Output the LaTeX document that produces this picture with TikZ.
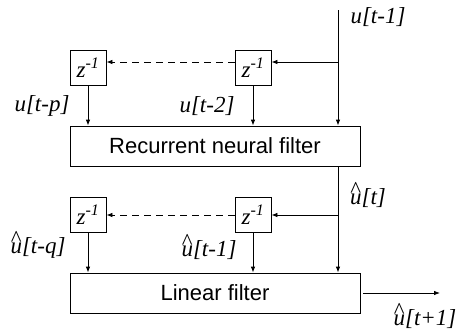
\documentclass[tikz,border=0pt]{standalone}
\usepackage{fontspec}
\setmainfont{Liberation Serif}
\newfontfamily\boxfont{Liberation Sans}
\usetikzlibrary{positioning}
\usetikzlibrary{arrows.meta}
\tikzstyle{delay} = [rectangle, draw=black, minimum width=36pt, minimum height=35pt, inner sep=0pt, font=\fontsize{23}{26}\selectfont]
\tikzstyle{filter} = [rectangle, draw=black, minimum width=290pt, minimum height=40pt, text centered, font=\boxfont\fontsize{22}{26}\selectfont]
\tikzstyle{signal} = [inner sep=0pt, font=\itshape\fontsize{23}{26}\selectfont]
\tikzstyle{arrow} = [-{Latex[length=6pt,width=4.5pt]}]
\newcommand{\zinv}{\textit{z}\textsuperscript{\textit{-1}}}
\newcommand{\uhat}{\leavevmode\setbox0\hbox{u}\rlap{\hbox to\wd0{\hss\raisebox{0.3em}{\upshape\textasciicircum}\hss}}\copy0}

\begin{document}
\begin{tikzpicture}[x=1pt, y=-1pt, line width=0.8pt]
        \useasboundingbox (0,0) rectangle (459,333);
        \node (rnf) [filter] at (215,146) {Recurrent neural filter};
        \node (lin) [filter] at (215,293) {Linear filter};
        \node (zp) [delay] at (88,67.5) {\zinv};
        \node (z2) [delay] at (253,67.5) {\zinv};
        \node (zq) [delay] at (88,214.5) {\zinv};
        \node (z1) [delay] at (253,214.5) {\zinv};

        \coordinate (in) at (338,10);
        \coordinate (tapA) at (338,62);
        \coordinate (tapB) at (338,215);
        \coordinate (out) at (440,293);

        \node (uin) [signal] at (378,17) {u[t-1]};
        \node (up) [signal] at (42,106) {u[t-p]};
        \node (u2) [signal] at (207,106) {u[t-2]};
        \node (ut) [signal] at (368,195) {\uhat[t]};
        \node (uq) [signal] at (38,245) {\uhat[t-q]};
        \node (u1) [signal] at (209,247) {\uhat[t-1]};
        \node (unext) [signal] at (425,316) {\uhat[t+1]};

        \draw [arrow] (in) -- (rnf.north -| in);
        \draw [arrow] (tapA) -- (tapA -| z2.east);
        \draw [arrow, dash pattern=on 7pt off 5pt] (z2.west |- tapA) -- (zp.east |- tapA);
        \draw [arrow] (zp.south) -- (rnf.north -| zp);
        \draw [arrow] (z2.south) -- (rnf.north -| z2);

        \draw [arrow] (rnf.south -| in) -- (lin.north -| in);
        \draw [arrow] (tapB) -- (tapB -| z1.east);
        \draw [arrow, dash pattern=on 7pt off 5pt] (z1.west |- tapB) -- (zq.east |- tapB);
        \draw [arrow] (zq.south) -- (lin.north -| zq);
        \draw [arrow] (z1.south) -- (lin.north -| z1);
        \draw [arrow, shorten <=3pt] (lin.east |- out) -- (out);
    \end{tikzpicture}
\end{document}
